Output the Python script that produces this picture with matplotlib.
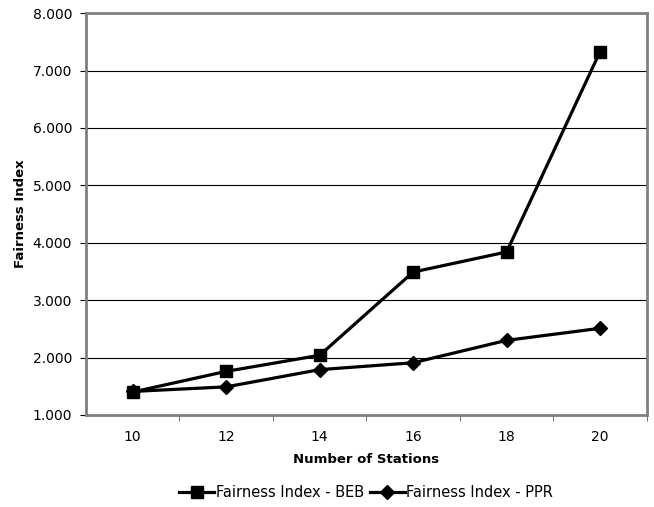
import matplotlib.pyplot as plt

# Fairness index vs number of stations
stations = [10, 12, 14, 16, 18, 20]
fairness_beb = [1.40, 1.76, 2.04, 3.49, 3.84, 7.33]
fairness_ppr = [1.41, 1.49, 1.79, 1.91, 2.30, 2.51]
y_ticks = [1, 2, 3, 4, 5, 6, 7, 8]

plt.rcParams['font.family'] = ['Verdana', 'DejaVu Sans']

fig = plt.figure(figsize=(6.54, 5.07), dpi=100)
ax = fig.add_axes([0.1315, 0.1815, 0.8575, 0.7925])

ax.plot(stations, fairness_beb, color="black", linewidth=2.3, marker="s",
        markersize=9, label="Fairness Index - BEB", zorder=3)
ax.plot(stations, fairness_ppr, color="black", linewidth=2.3, marker="D",
        markersize=7.5, label="Fairness Index - PPR", zorder=3)

ax.set_ylim(1, 8)
ax.set_yticks(y_ticks)
ax.set_yticklabels(["%.3f" % v for v in y_ticks])
ax.yaxis.grid(True, color="black", linewidth=0.8)
ax.set_axisbelow(True)

# category style axis: labels at categories, ticks between them
ax.set_xlim(9, 21)
ax.set_xticks(stations)
ax.set_xticklabels([str(s) for s in stations])
ax.set_xticks([11, 13, 15, 17, 19, 21], minor=True)
ax.tick_params(axis="x", which="major", length=0, pad=11, labelsize=10)
ax.tick_params(axis="x", which="minor", length=4, direction="out", color="#555555")
ax.tick_params(axis="y", length=4, direction="out", pad=6, labelsize=10)

for s in ax.spines.values():
    s.set_color("#808080")
    s.set_linewidth(2)

ax.set_xlabel("Number of Stations", fontsize=9.5, fontweight="bold", labelpad=6)
ax.set_ylabel("Fairness Index", fontsize=9.5, fontweight="bold", labelpad=4)

fig.legend(loc="lower center", ncol=2, frameon=False, fontsize=10.5,
           bbox_to_anchor=(0.56, -0.012), handlelength=2.4, handletextpad=0.1,
           columnspacing=0.4)

fig.savefig("out.png", dpi=100)
